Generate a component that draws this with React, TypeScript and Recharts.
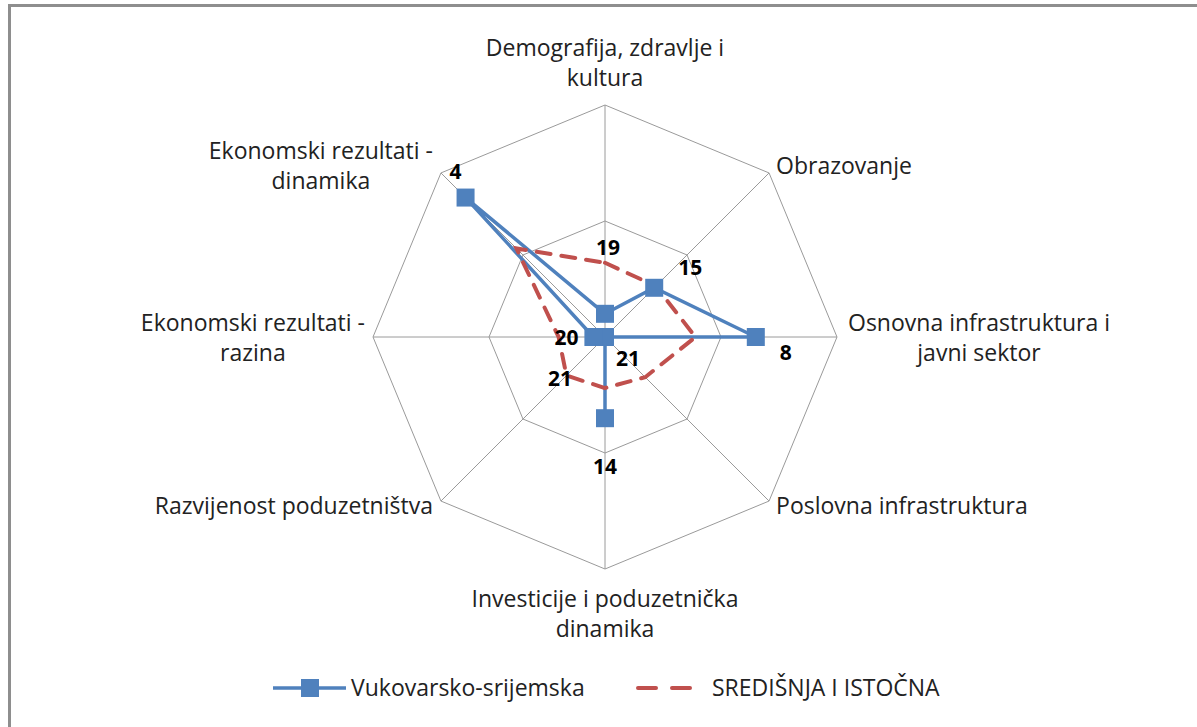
import React from "react";
import { RadarChart, PolarGrid, PolarAngleAxis, PolarRadiusAxis, Radar, LabelList, Legend } from "recharts";

const CATEGORIES = [
  "Demografija, zdravlje i kultura",
  "Obrazovanje",
  "Osnovna infrastruktura i javni sektor",
  "Poslovna infrastruktura",
  "Investicije i poduzetnička dinamika",
  "Razvijenost poduzetništva",
  "Ekonomski rezultati - razina",
  "Ekonomski rezultati - dinamika",
];
const VUKOVARSKO = [19, 15, 8, 21, 14, 21, 20, 4];
const SREDISNJA = [14.6, 14.8, 13.2, 16.1, 16.6, 16.3, 17.0, 10.2];
const RANK_TICKS = [1, 11, 21];
const SERIES_NAMES = ["Vukovarsko-srijemska", "SREDIŠNJA I ISTOČNA"];

const data = CATEGORIES.map((c, i) => ({ cat: c, vuk: VUKOVARSKO[i], sred: SREDISNJA[i] }));

const W = 1197, H = 727;
const CX = 605, CY = 337, R = 232;
const BLUE = "#4F81BD", RED = "#C0504D";
const FONT = "'Open Sans', 'Liberation Sans', sans-serif";
const FS = 23;
const VFS = 21;
const LH = 30;

// where the value labels sit, relative to each point (Excel had them nudged by hand)
const LABEL_NUDGE = [[3, -67], [36, -21], [30, 15], [23, 21], [0, 48], [-45, 41], [-27, 0], [-10, -27]];

let ctx: CanvasRenderingContext2D | null = null;
function textWidth(s: string) {
  if (!ctx) ctx = document.createElement("canvas").getContext("2d");
  if (!ctx) return s.length * FS * 0.5;
  ctx.font = `${FS}px 'Open Sans'`;
  return ctx.measureText(s).width;
}

function wrap(s: string, max: number) {
  const out: string[] = [];
  let cur = "";
  s.split(" ").forEach(w => {
    if (cur && (cur + " " + w).length > max) { out.push(cur); cur = w; }
    else cur = cur ? cur + " " + w : w;
  });
  if (cur) out.push(cur);
  return out;
}

function AngleTick(props: any) {
  const { payload } = props;
  const a = (payload.coordinate * Math.PI) / 180;
  const cos = Math.cos(a), sin = Math.sin(a);
  const vx = CX + R * cos, vy = CY - R * sin;
  const lines = wrap(String(payload.value), 26);
  const maxW = Math.max(...lines.map(textWidth));
  let x = vx, y0 = vy;
  if (Math.abs(cos) < 0.01) {
    y0 = sin > 0 ? vy - 28 - (lines.length - 1) * LH : vy + 29;
  } else {
    const gap = cos > 0.9 ? 11 : 7;
    x = cos > 0 ? vx + gap + maxW / 2 : vx - 8 - maxW / 2;
    const mid = vy + (sin > 0.1 ? -8 : sin < -0.1 ? 4 : 0);
    y0 = mid - ((lines.length - 1) * LH) / 2;
  }
  return (
    <g>
      {lines.map((l, i) => (
        <text key={i} x={x} y={y0 + i * LH} textAnchor="middle" dominantBaseline="central"
          fontFamily={FONT} fontSize={FS} fill="#222">{l}</text>
      ))}
    </g>
  );
}

function SquareDot(props: any) {
  const { cx, cy, index } = props;
  return <rect key={index} x={cx - 9} y={cy - 9} width={18} height={18} fill={BLUE} />;
}

function ValueLabel(props: any) {
  const { x, y, value, index } = props;
  const [dx, dy] = LABEL_NUDGE[index] || [0, 0];
  return (
    <text x={x + dx} y={y + dy} textAnchor="middle" dominantBaseline="central"
      fontFamily={FONT} fontSize={VFS} fontWeight="bold" fill="#000">{value}</text>
  );
}

function LegendBox() {
  return (
    <div style={{ position: "relative", height: 40, fontFamily: FONT, fontSize: FS, color: "#222" }}>
      <svg style={{ position: "absolute", left: 272, top: 8 }} width={76} height={24}>
        <line x1={1} y1={12} x2={74} y2={12} stroke={BLUE} strokeWidth={3.5} />
        <rect x={29} y={3} width={18} height={18} fill={BLUE} />
      </svg>
      <span style={{ position: "absolute", left: 351, top: 3 }}>{SERIES_NAMES[0]}</span>
      <svg style={{ position: "absolute", left: 634, top: 8 }} width={64} height={24}>
        <line x1={4} y1={12} x2={60} y2={12} stroke={RED} strokeWidth={4} strokeDasharray="18 16" strokeLinecap="round" />
      </svg>
      <span style={{ position: "absolute", left: 712, top: 3 }}>{SERIES_NAMES[1]}</span>
    </div>
  );
}

export default function App() {
  return (
    <div style={{ position: "absolute", left: 0, top: 0, width: W, height: H, background: "#fff", overflow: "hidden" }}>
      <div style={{ position: "absolute", left: 8, top: 4, width: W, height: H, borderTop: "3px solid #8e8e8e", borderLeft: "3px solid #8e8e8e" }} />
      <RadarChart width={W} height={H} data={data} cx={CX} cy={CY} outerRadius={R}
        margin={{ top: 0, right: 0, bottom: 0, left: 0 }} style={{ position: "absolute", left: 0, top: 0 }}>
        <PolarGrid gridType="polygon" stroke="#9a9a9a" strokeWidth={1} />
        <PolarAngleAxis dataKey="cat" tick={<AngleTick />} tickLine={false} axisLine={false} />
        <PolarRadiusAxis domain={[1, 21]} reversed ticks={RANK_TICKS} tick={false} axisLine={false} tickCount={3} />
        <Radar name={SERIES_NAMES[0]} dataKey="vuk" stroke={BLUE} strokeWidth={3.5} fill="none" fillOpacity={0}
          dot={SquareDot} isAnimationActive={false}>
          <LabelList dataKey="vuk" content={ValueLabel} />
        </Radar>
        <Radar name={SERIES_NAMES[1]} dataKey="sred" stroke={RED} strokeWidth={4} strokeDasharray="14 11"
          strokeLinecap="round" fill="none" fillOpacity={0} dot={false} isAnimationActive={false} />
        <Legend content={<LegendBox />} wrapperStyle={{ position: "absolute", left: 0, top: 668, width: W }} />
      </RadarChart>
    </div>
  );
}
